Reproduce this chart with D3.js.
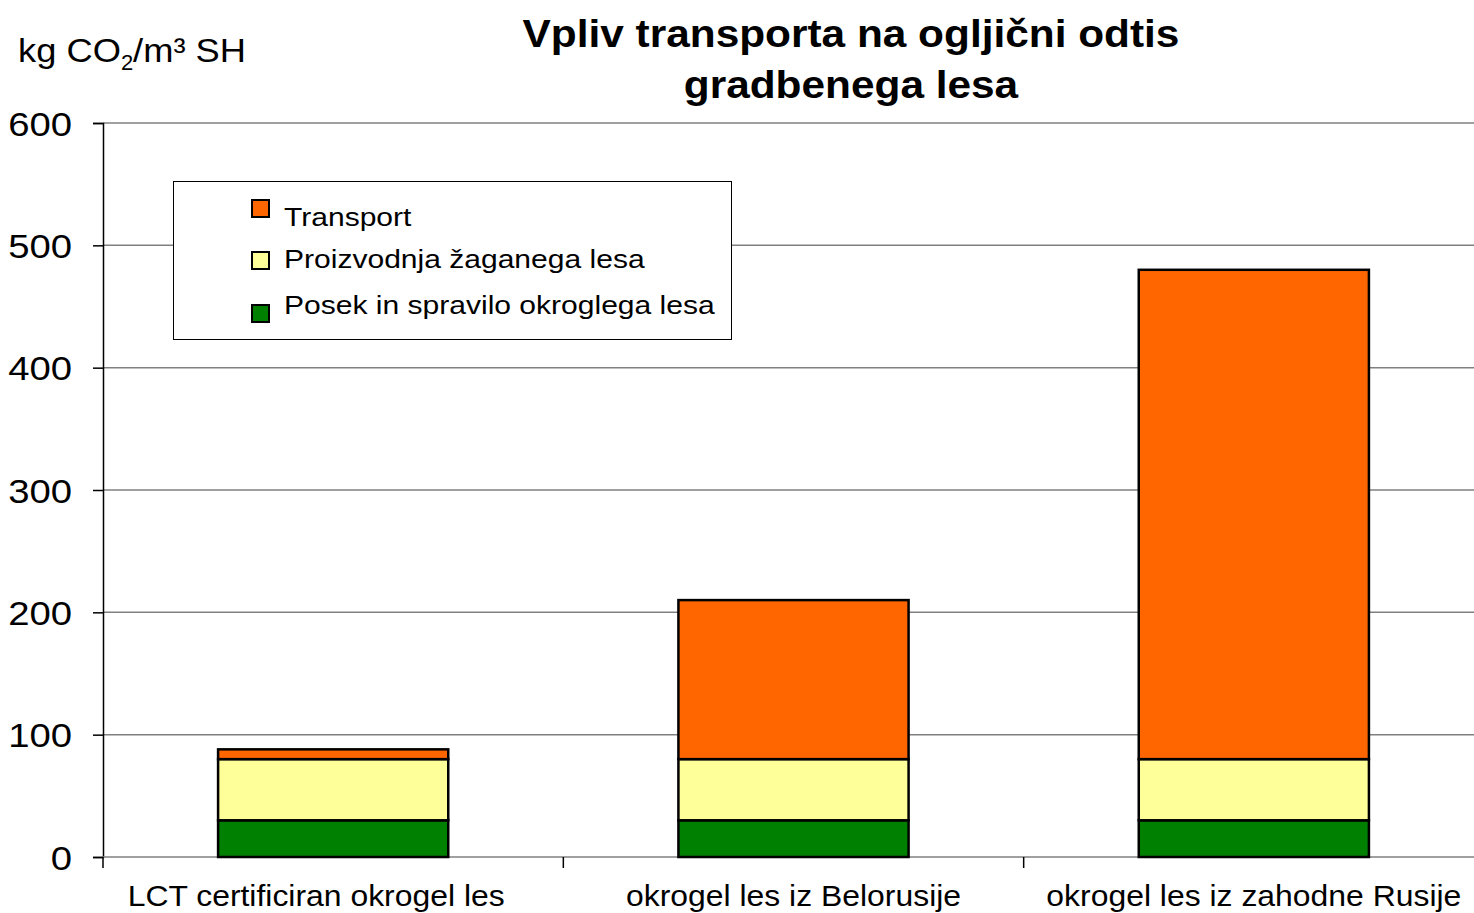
<!DOCTYPE html>
<html>
<head>
<meta charset="utf-8">
<script src="https://cdn.jsdelivr.net/npm/d3@7"></script>
<style>
  body { margin: 0; background: #fff; }
  svg { display: block; font-family: "Liberation Sans", Arial, sans-serif; }
</style>
</head>
<body>
<div class="vis"></div>
<script>
const categories = ["LCT certificiran okrogel les", "okrogel les iz Belorusije", "okrogel les iz zahodne Rusije"];
const posek = [30, 30, 30];
const proizvodnja = [50, 50, 50];
const transport = [8, 130, 400];
const seriesNames = ["Posek in spravilo okroglega lesa", "Proizvodnja žaganega lesa", "Transport"];
const seriesColors = ["#008000", "#FFFF99", "#FF6600"];
const yTicks = [0, 100, 200, 300, 400, 500, 600];

const width = 1474, height = 913;
const margin = {top: 123, left: 103, bottom: 56};
const plotRight = 1484;

const svg = d3.select('.vis').append('svg')
    .attr('width', width)
    .attr('height', height);

// the original text is drawn a little wider than Liberation Sans
function stretch(sel, k) {
    sel.each(function() {
        const w = this.getComputedTextLength();
        d3.select(this)
            .attr('textLength', w * k)
            .attr('lengthAdjust', 'spacingAndGlyphs');
    });
}

const rows = categories.map((c, i) => ({cat: c, s0: posek[i], s1: proizvodnja[i], s2: transport[i]}));
const stack = d3.stack().keys(["s0", "s1", "s2"])(rows);

const x = d3.scaleBand()
    .domain(categories)
    .range([margin.left, plotRight])
    .paddingInner(0.5)
    .paddingOuter(0.25);

const y = d3.scaleLinear()
    .domain([0, 600])
    .range([height - margin.bottom, margin.top]);

// gridlines
svg.append('g')
    .selectAll('line')
    .data(yTicks.filter(d => d > 0))
    .join('line')
    .attr('x1', margin.left)
    .attr('x2', plotRight)
    .attr('y1', d => y(d))
    .attr('y2', d => y(d))
    .attr('stroke', '#808080')
    .attr('stroke-width', 1.5);

// y axis
const yAxis = svg.append('g')
    .attr('transform', `translate(${margin.left},0)`)
    .call(d3.axisLeft(y).tickValues(yTicks).tickSize(10));
yAxis.select('.domain').attr('stroke', '#000').attr('stroke-width', 1.5);
yAxis.selectAll('.tick line').attr('stroke', '#000').attr('stroke-width', 1.5);
yAxis.selectAll('.tick text')
    .attr('font-size', 33)
    .attr('font-family', '"Liberation Sans", Arial, sans-serif')
    .attr('fill', '#000')
    .attr('dy', '0.37em')
    .attr('text-anchor', 'start')
    .each(function() {
        const w = this.getComputedTextLength() * 1.16;
        d3.select(this)
            .attr('x', -31 - w)
            .attr('textLength', w)
            .attr('lengthAdjust', 'spacingAndGlyphs');
    });

// x axis
const xb = d3.scaleLinear().domain([0, 3]).range([margin.left, plotRight]);
const xAxisG = svg.append('g');
xAxisG.append('line')
    .attr('x1', margin.left).attr('x2', plotRight)
    .attr('y1', y(0)).attr('y2', y(0))
    .attr('stroke', '#808080').attr('stroke-width', 1.5);
xAxisG.selectAll('line.tk')
    .data([0, 1, 2])
    .join('line')
    .attr('class', 'tk')
    .attr('x1', d => xb(d)).attr('x2', d => xb(d))
    .attr('y1', y(0)).attr('y2', y(0) + 11)
    .attr('stroke', '#000').attr('stroke-width', 1.5);
xAxisG.selectAll('text')
    .data(categories)
    .join('text')
    .attr('x', d => x(d) + x.bandwidth() / 2)
    .attr('dx', (d, i) => i === 0 ? -17 : 0)
    .attr('y', y(0) + 49)
    .attr('text-anchor', 'middle')
    .attr('font-size', 29)
    .attr('fill', '#000')
    .text(d => d)
    .call(stretch, 1.1);

// bars
svg.append('g')
    .selectAll('g')
    .data(stack)
    .join('g')
    .attr('fill', (d, i) => seriesColors[i])
    .selectAll('rect')
    .data(d => d)
    .join('rect')
    .attr('x', d => x(d.data.cat))
    .attr('width', x.bandwidth())
    .attr('y', d => y(d[1]))
    .attr('height', d => y(d[0]) - y(d[1]))
    .attr('stroke', '#000')
    .attr('stroke-width', 2.5);

// legend
const legend = svg.append('g');
legend.append('rect')
    .attr('x', 173.5).attr('y', 181.5)
    .attr('width', 558).attr('height', 158)
    .attr('fill', '#fff')
    .attr('stroke', '#000')
    .attr('stroke-width', 1);
const legendItems = [2, 1, 0];
const swatchTop = [200, 252, 305];
const textBase = [226, 268, 314];
legend.selectAll('rect.sw')
    .data(legendItems)
    .join('rect')
    .attr('class', 'sw')
    .attr('x', 252).attr('y', (d, i) => swatchTop[i])
    .attr('width', 17).attr('height', 17)
    .attr('fill', d => seriesColors[d])
    .attr('stroke', '#000')
    .attr('stroke-width', 2);
legend.selectAll('text')
    .data(legendItems)
    .join('text')
    .attr('x', 284)
    .attr('y', (d, i) => textBase[i])
    .attr('font-size', 26)
    .attr('fill', '#000')
    .text(d => seriesNames[d])
    .call(stretch, 1.155);

// unit label
const unit = svg.append('text')
    .attr('x', 18).attr('y', 62)
    .attr('font-size', 33)
    .attr('fill', '#000');
unit.append('tspan').text('kg CO').call(stretch, 1.1);
unit.append('tspan').attr('font-size', 22).attr('dy', 8).text('2');
unit.append('tspan').attr('dy', -8).text('/m³ SH').call(stretch, 1.1);

// title
svg.append('text')
    .attr('x', 851).attr('y', 47)
    .attr('text-anchor', 'middle')
    .attr('font-size', 38)
    .attr('font-weight', 'bold')
    .attr('fill', '#000')
    .text('Vpliv transporta na ogljični odtis')
    .call(stretch, 1.115);
svg.append('text')
    .attr('x', 851).attr('y', 98)
    .attr('text-anchor', 'middle')
    .attr('font-size', 38)
    .attr('font-weight', 'bold')
    .attr('fill', '#000')
    .text('gradbenega lesa')
    .call(stretch, 1.115);
</script>
</body>
</html>
